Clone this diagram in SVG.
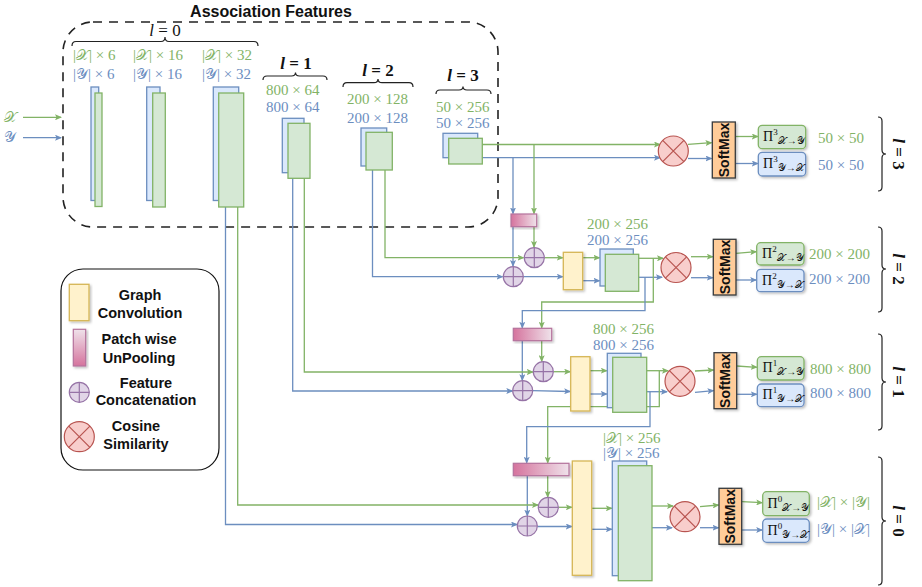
<svg xmlns="http://www.w3.org/2000/svg" width="922" height="587" viewBox="0 0 922 587">
<style>
.g{stroke:#82b366;fill:none;stroke-width:1.3}
.b{stroke:#6c8ebf;fill:none;stroke-width:1.3}
.gf{fill:#d5e8d4;stroke:#82b366;stroke-width:1.3}
.bf{fill:#dae8fc;stroke:#6c8ebf;stroke-width:1.3}
.yf{fill:#fff2cc;stroke:#d6b656;stroke-width:1.3}
.pc{fill:#e1d5e7;stroke:#9673a6;stroke-width:1.2}
.rc{fill:#f8cecc;stroke:#b85450;stroke-width:1.2}
.sm{fill:#ffcc99;stroke:#36393d;stroke-width:1.3}
.pk{stroke:#b5739d;stroke-width:1.2}
.m{font-family:"Liberation Serif","DejaVu Serif",serif;font-size:15px}
.tg{fill:#82b366}
.tb{fill:#6c8ebf}
.lab{font-family:"Liberation Sans",Arial,sans-serif;font-weight:bold;font-size:14.5px;fill:#111;text-anchor:middle}
.smt{font-family:"Liberation Sans",Arial,sans-serif;font-weight:bold;font-size:14px;fill:#111;text-anchor:middle}
.lv{font-family:"Liberation Serif","DejaVu Serif",serif;font-weight:bold;font-size:17px;fill:#111;text-anchor:middle}
.br{fill:none;stroke:#222;stroke-width:1.2}
.pi{font-family:"Liberation Serif","DejaVu Serif",serif;font-size:14px;fill:#111}
.ps{font-size:9px}
.pb{font-size:10px}
</style>
<defs>
<marker id="ag" markerWidth="7" markerHeight="6" refX="6" refY="3" orient="auto" markerUnits="userSpaceOnUse"><path d="M0,0 L7,3 L0,6 L1.5,3 z" fill="#82b366"/></marker>
<marker id="ab" markerWidth="7" markerHeight="6" refX="6" refY="3" orient="auto" markerUnits="userSpaceOnUse"><path d="M0,0 L7,3 L0,6 L1.5,3 z" fill="#6c8ebf"/></marker>
<linearGradient id="pkh" x1="0" y1="0" x2="1" y2="0"><stop offset="0" stop-color="#d5739d"/><stop offset="1" stop-color="#efe2ea"/></linearGradient>
<linearGradient id="pkv" x1="0" y1="0" x2="0" y2="1"><stop offset="0" stop-color="#efe2ea"/><stop offset="1" stop-color="#d5739d"/></linearGradient>
<filter id="sh" x="-20%" y="-20%" width="140%" height="140%"><feDropShadow dx="1.5" dy="1.5" stdDeviation="0.8" flood-color="#000" flood-opacity="0.25"/></filter>
<g id="cosSym"><circle r="15" class="rc"/><path d="M-10.6,-10.6 L10.6,10.6 M10.6,-10.6 L-10.6,10.6" stroke="#b85450" stroke-width="1.2"/></g>
<g id="catSym"><circle r="10" class="pc"/><path d="M-10,0 H10 M0,-10 V10" stroke="#9673a6" stroke-width="1.2"/></g>
</defs>

<rect width="922" height="587" fill="#fff"/>

<!-- Association features frame -->
<g id="assoc-frame">
<rect x="63" y="22" width="435" height="205" rx="30" fill="none" stroke="#222" stroke-width="1.6" stroke-dasharray="9,7"/>
<text x="271" y="17" font-family="'Liberation Sans',Arial,sans-serif" font-weight="bold" font-size="16" text-anchor="middle" fill="#111">Association Features</text>
</g>

<!-- connectors -->
<g id="connectors">
<!-- inputs -->
<path class="g" d="M23,117.3 H61" marker-end="url(#ag)"/>
<path class="b" d="M23,137.7 H61" marker-end="url(#ab)"/>
<!-- level 3 -->
<path class="g" d="M482,144.5 H660" marker-end="url(#ag)"/>
<path class="b" d="M482,157.7 H660" marker-end="url(#ab)"/>
<path class="g" d="M534,144.5 V213.5" marker-end="url(#ag)"/>
<path class="b" d="M513,157.7 V213.5" marker-end="url(#ab)"/>
<path class="g" d="M688,144.3 L711.5,142.7" marker-end="url(#ag)"/>
<path class="b" d="M688,158.5 H711.5" marker-end="url(#ab)"/>
<path class="g" d="M735.3,136.5 H757.8" marker-end="url(#ag)"/>
<path class="b" d="M735.3,163.5 H757.8" marker-end="url(#ab)"/>
<!-- level 2 -->
<path class="g" d="M534,226.7 V247" marker-end="url(#ag)"/>
<path class="b" d="M513,226.7 V266" marker-end="url(#ab)"/>
<path class="g" d="M385,170 V257.7 H523.5" marker-end="url(#ag)"/>
<path class="b" d="M372.5,166 V276.7 H502.5" marker-end="url(#ab)"/>
<path class="g" d="M544.3,257.7 H562.8" marker-end="url(#ag)"/>
<path class="b" d="M523.3,276.7 H562.8" marker-end="url(#ab)"/>
<path class="g" d="M582.7,257.7 H599.5" marker-end="url(#ag)"/>
<path class="b" d="M582.7,280.7 H599.5" marker-end="url(#ab)"/>
<path class="g" d="M638.7,258.3 H663" marker-end="url(#ag)"/>
<path class="b" d="M638.7,277.3 H662" marker-end="url(#ab)"/>
<path class="g" d="M653.3,258.3 V302 H541.7 V327.8" marker-end="url(#ag)"/>
<path class="b" d="M645,277.3 V310.7 H522.3 V327.8" marker-end="url(#ab)"/>
<path class="g" d="M691,256.7 H712.8" marker-end="url(#ag)"/>
<path class="b" d="M691,277.7 H712.8" marker-end="url(#ab)"/>
<path class="g" d="M736,253.3 L756.2,251.7" marker-end="url(#ag)"/>
<path class="b" d="M736,280 H756.2" marker-end="url(#ab)"/>
<!-- level 1 -->
<path class="g" d="M541.7,340.7 V361.2" marker-end="url(#ag)"/>
<path class="b" d="M522.3,340.7 V380.2" marker-end="url(#ab)"/>
<path class="g" d="M304.3,178.3 V372 H532.8" marker-end="url(#ag)"/>
<path class="b" d="M292.7,172.7 V391 H512.3" marker-end="url(#ab)"/>
<path class="g" d="M553.3,371.7 H570.2" marker-end="url(#ag)"/>
<path class="b" d="M532.7,390.7 L570.2,391.5" marker-end="url(#ab)"/>
<path class="g" d="M590,370.7 H606.8" marker-end="url(#ag)"/>
<path class="b" d="M590,394 H606.8" marker-end="url(#ab)"/>
<path class="g" d="M646.7,370.7 H668" marker-end="url(#ag)"/>
<path class="b" d="M646.7,391.7 H667" marker-end="url(#ab)"/>
<path class="g" d="M659.3,370.7 V406.7 H547.7 V462.8" marker-end="url(#ag)"/>
<path class="b" d="M650,391.7 V426.7 H526.7 V462.8" marker-end="url(#ab)"/>
<path class="g" d="M695,371 L713.5,370" marker-end="url(#ag)"/>
<path class="b" d="M695,392.3 L713.5,390.7" marker-end="url(#ab)"/>
<path class="g" d="M736.7,366 L756.8,367.3" marker-end="url(#ag)"/>
<path class="b" d="M736.7,394.3 H756.8" marker-end="url(#ab)"/>
<!-- level 0 -->
<path class="g" d="M547.7,475.7 V497" marker-end="url(#ag)"/>
<path class="b" d="M527.3,475.7 V515.7" marker-end="url(#ab)"/>
<path class="g" d="M237.7,206.7 V505 H538" marker-end="url(#ag)"/>
<path class="b" d="M225.5,200.7 V524.5 H517" marker-end="url(#ab)"/>
<path class="g" d="M558.3,507.3 H571.8" marker-end="url(#ag)"/>
<path class="b" d="M537.3,526.5 H571.8" marker-end="url(#ab)"/>
<path class="g" d="M591.7,508.3 H611.8" marker-end="url(#ag)"/>
<path class="b" d="M591.7,529.3 H611.8" marker-end="url(#ab)"/>
<path class="g" d="M652,506 H673" marker-end="url(#ag)"/>
<path class="b" d="M652,527.7 H672" marker-end="url(#ab)"/>
<path class="g" d="M700,506.7 L718.5,505" marker-end="url(#ag)"/>
<path class="b" d="M700,527.7 H718.5" marker-end="url(#ab)"/>
<path class="g" d="M741.7,501.7 L762.2,502.7" marker-end="url(#ag)"/>
<path class="b" d="M741.7,530 H762.2" marker-end="url(#ab)"/>
</g>

<!-- inputs labels -->
<g id="inputs">
<text class="m tg" x="4" y="122">𝒳</text>
<text class="m tb" x="4" y="142">𝒴</text>
</g>

<!-- level 0 encoder -->
<g id="enc-l0">
<text x="165" y="36" class="lv" style="font-weight:normal"><tspan font-style="italic">l</tspan> = 0</text>
<path class="br" d="M72,46 Q72,41.5 76,41.5 H161 Q165,41.5 165,37 Q165,41.5 169,41.5 H254 Q258,41.5 258,46"/>
<text class="m tg" x="73" y="60">|𝒳| × 6</text>
<text class="m tb" x="73" y="79">|𝒴| × 6</text>
<text class="m tg" x="133" y="60">|𝒳| × 16</text>
<text class="m tb" x="133" y="79">|𝒴| × 16</text>
<text class="m tg" x="202" y="60">|𝒳| × 32</text>
<text class="m tb" x="202" y="79">|𝒴| × 32</text>
<rect class="bf" x="91" y="87" width="7.7" height="113.5"/>
<rect class="gf" x="95" y="93" width="7" height="113.5"/>
<rect class="bf" x="146.7" y="87" width="13.3" height="113.5"/>
<rect class="gf" x="152.7" y="93" width="12.6" height="114"/>
<rect class="bf" x="213.3" y="87" width="25.4" height="113.5"/>
<rect class="gf" x="218.7" y="93" width="25" height="114"/>
</g>

<g id="enc-l1">
<text x="296" y="69" class="lv"><tspan font-style="italic">l</tspan> = 1</text>
<path class="br" d="M263,80 Q263,76 267,76 H291.5 Q295.5,76 295.5,72.5 Q295.5,76 299.5,76 H323 Q327,76 327,80"/>
<text class="m tg" x="266" y="95">800 × 64</text>
<text class="m tb" x="266" y="112">800 × 64</text>
<rect class="bf" x="282.3" y="118.3" width="21.7" height="54.4"/>
<rect class="gf" x="288" y="123.3" width="22" height="55"/>
</g>

<g id="enc-l2">
<text x="378" y="76" class="lv"><tspan font-style="italic">l</tspan> = 2</text>
<path class="br" d="M343,87 Q343,82.7 347,82.7 H374 Q378,82.7 378,79 Q378,82.7 382,82.7 H409 Q413,82.7 413,87"/>
<text class="m tg" x="347" y="104">200 × 128</text>
<text class="m tb" x="347" y="123">200 × 128</text>
<rect class="bf" x="361" y="128" width="25.7" height="38"/>
<rect class="gf" x="366" y="132.3" width="26.3" height="37.7"/>
</g>

<g id="enc-l3">
<text x="463" y="81" class="lv"><tspan font-style="italic">l</tspan> = 3</text>
<path class="br" d="M436,94 Q436,90 440,90 H459 Q463,90 463,86.5 Q463,90 467,90 H487 Q491,90 491,94"/>
<text class="m tg" x="436" y="112">50 × 256</text>
<text class="m tb" x="436" y="128">50 × 256</text>
<rect class="bf" x="443" y="133.3" width="34.7" height="24.4"/>
<rect class="gf" x="448.7" y="138.3" width="33.6" height="25.7"/>
</g>

<!-- level 3 decoder -->
<g id="cos3"><use href="#cosSym" x="673.3" y="151"/></g>
<g id="softmax3"><rect class="sm" x="712.3" y="122" width="23" height="56" filter="url(#sh)"/><text class="smt" transform="translate(728.8,150) rotate(-90)">SoftMax</text></g>
<g id="pi3x"><rect class="gf" x="758.3" y="125.3" width="47.4" height="23.4" rx="4" filter="url(#sh)"/><text class="pi" x="763" y="141">Π<tspan class="ps" dy="-6">3</tspan><tspan class="pb" dy="9">𝒳→𝒴</tspan></text></g>
<g id="pi3y"><rect class="bf" x="758.3" y="152.3" width="47.4" height="23.7" rx="4" filter="url(#sh)"/><text class="pi" x="763" y="168">Π<tspan class="ps" dy="-6">3</tspan><tspan class="pb" dy="9">𝒴→𝒳</tspan></text></g>
<g id="dim3"><text class="m tg" x="818" y="143">50 × 50</text><text class="m tb" x="818" y="170">50 × 50</text></g>
<g id="brace3"><path class="br" d="M878,117 Q882,117 882,121 V150 Q882,154 886,154 Q882,154 882,158 V187 Q882,191 878,191"/><text class="lv" transform="translate(893,154) rotate(90)"><tspan font-style="italic">l</tspan> = 3</text></g>

<!-- level 2 decoder -->
<g id="pool2"><rect class="pk" x="511" y="214" width="25.7" height="12.7" fill="url(#pkh)" filter="url(#sh)"/></g>
<g id="cat2g"><use href="#catSym" x="534.3" y="257.7"/></g>
<g id="cat2b"><use href="#catSym" x="513.3" y="276.7"/></g>
<g id="gc2"><rect class="yf" x="563.3" y="252.3" width="19.4" height="37.4" filter="url(#sh)"/></g>
<g id="feat2"><text class="m tg" x="587" y="229">200 × 256</text><text class="m tb" x="587" y="244.5">200 × 256</text>
<rect class="bf" x="600" y="249" width="33.3" height="37"/><rect class="gf" x="605.3" y="254.3" width="33.4" height="37"/></g>
<g id="cos2"><use href="#cosSym" x="676" y="267.5"/></g>
<g id="softmax2"><rect class="sm" x="713.3" y="239.3" width="22.7" height="55.7" filter="url(#sh)"/><text class="smt" transform="translate(729.6,267) rotate(-90)">SoftMax</text></g>
<g id="pi2x"><rect class="gf" x="756.7" y="242.7" width="47.3" height="22.3" rx="4" filter="url(#sh)"/><text class="pi" x="762" y="258">Π<tspan class="ps" dy="-6">2</tspan><tspan class="pb" dy="9">𝒳→𝒴</tspan></text></g>
<g id="pi2y"><rect class="bf" x="756.7" y="269.3" width="47.3" height="22.4" rx="4" filter="url(#sh)"/><text class="pi" x="762" y="284.5">Π<tspan class="ps" dy="-6">2</tspan><tspan class="pb" dy="9">𝒴→𝒳</tspan></text></g>
<g id="dim2"><text class="m tg" x="809" y="258.5">200 × 200</text><text class="m tb" x="809" y="284">200 × 200</text></g>
<g id="brace2"><path class="br" d="M878,227 Q882,227 882,231 V265 Q882,269 886,269 Q882,269 882,273 V308 Q882,312 878,312"/><text class="lv" transform="translate(893,269) rotate(90)"><tspan font-style="italic">l</tspan> = 2</text></g>

<!-- level 1 decoder -->
<g id="pool1"><rect class="pk" x="513.3" y="328.3" width="38.4" height="12.4" fill="url(#pkh)" filter="url(#sh)"/></g>
<g id="cat1g"><use href="#catSym" x="543.3" y="371.7"/></g>
<g id="cat1b"><use href="#catSym" x="522.7" y="390.7"/></g>
<g id="gc1"><rect class="yf" x="570.7" y="356.7" width="19.3" height="54.3" filter="url(#sh)"/></g>
<g id="feat1"><text class="m tg" x="593" y="334">800 × 256</text><text class="m tb" x="593" y="349.5">800 × 256</text>
<rect class="bf" x="607.3" y="353.3" width="33.7" height="54.4"/><rect class="gf" x="612.7" y="357.3" width="34" height="55"/></g>
<g id="cos1"><use href="#cosSym" x="680" y="381.3"/></g>
<g id="softmax1"><rect class="sm" x="714" y="352.7" width="22.7" height="56" filter="url(#sh)"/><text class="smt" transform="translate(730.3,380.7) rotate(-90)">SoftMax</text></g>
<g id="pi1x"><rect class="gf" x="757.3" y="356.7" width="46.7" height="23.3" rx="4" filter="url(#sh)"/><text class="pi" x="762.5" y="372">Π<tspan class="ps" dy="-6">1</tspan><tspan class="pb" dy="9">𝒳→𝒴</tspan></text></g>
<g id="pi1y"><rect class="bf" x="757.3" y="384" width="46.7" height="22.7" rx="4" filter="url(#sh)"/><text class="pi" x="762.5" y="399">Π<tspan class="ps" dy="-6">1</tspan><tspan class="pb" dy="9">𝒴→𝒳</tspan></text></g>
<g id="dim1"><text class="m tg" x="810" y="373.5">800 × 800</text><text class="m tb" x="810" y="398">800 × 800</text></g>
<g id="brace1"><path class="br" d="M878,334 Q882,334 882,338 V378 Q882,382 886,382 Q882,382 882,386 V426 Q882,430 878,430"/><text class="lv" transform="translate(893,382) rotate(90)"><tspan font-style="italic">l</tspan> = 1</text></g>

<!-- level 0 decoder -->
<g id="pool0"><rect class="pk" x="513.3" y="463.3" width="55.7" height="12.4" fill="url(#pkh)" filter="url(#sh)"/></g>
<g id="cat0g"><use href="#catSym" x="548.3" y="507.3"/></g>
<g id="cat0b"><use href="#catSym" x="527.3" y="526"/></g>
<g id="gc0"><rect class="yf" x="572.3" y="461" width="19.4" height="114.3" filter="url(#sh)"/></g>
<g id="feat0"><text class="m tg" x="603" y="442.5">|𝒳| × 256</text><text class="m tb" x="603" y="458">|𝒴| × 256</text>
<rect class="bf" x="612.3" y="461" width="34.4" height="114.7"/><rect class="gf" x="618.3" y="465.7" width="33.7" height="115"/></g>
<g id="cos0"><use href="#cosSym" x="685" y="516.7"/></g>
<g id="softmax0"><rect class="sm" x="719" y="488.3" width="22.7" height="56" filter="url(#sh)"/><text class="smt" transform="translate(735.3,516.3) rotate(-90)">SoftMax</text></g>
<g id="pi0x"><rect class="gf" x="762.7" y="491.7" width="46.6" height="24" rx="4" filter="url(#sh)"/><text class="pi" x="767.5" y="507.5">Π<tspan class="ps" dy="-6">0</tspan><tspan class="pb" dy="9">𝒳→𝒴</tspan></text></g>
<g id="pi0y"><rect class="bf" x="762.7" y="519" width="46.6" height="23.3" rx="4" filter="url(#sh)"/><text class="pi" x="767.5" y="534.5">Π<tspan class="ps" dy="-6">0</tspan><tspan class="pb" dy="9">𝒴→𝒳</tspan></text></g>
<g id="dim0"><text class="m tg" x="817" y="507">|𝒳| × |𝒴|</text><text class="m tb" x="817" y="534">|𝒴| × |𝒳|</text></g>
<g id="brace0"><path class="br" d="M878,457 Q882,457 882,461 V517 Q882,521 886,521 Q882,521 882,525 V581 Q882,585 878,585"/><text class="lv" transform="translate(893,521) rotate(90)"><tspan font-style="italic">l</tspan> = 0</text></g>

<!-- legend -->
<g id="legend">
<rect x="61" y="269" width="158" height="201" rx="22" fill="none" stroke="#111" stroke-width="1.2"/>
<rect class="yf" x="69.3" y="284.3" width="19.7" height="36.4" filter="url(#sh)"/>
<text class="lab" x="140" y="300">Graph</text><text class="lab" x="140" y="318">Convolution</text>
<rect class="pk" x="73.3" y="329.3" width="12.4" height="36.7" fill="url(#pkv)" filter="url(#sh)"/>
<text class="lab" x="139" y="344">Patch wise</text><text class="lab" x="139" y="362.5">UnPooling</text>
<use href="#catSym" x="79.3" y="392.3"/>
<text class="lab" x="146" y="387.5">Feature</text><text class="lab" x="146" y="405">Concatenation</text>
<use href="#cosSym" x="79.3" y="436.7"/>
<text class="lab" x="136" y="431">Cosine</text><text class="lab" x="136" y="448.5">Similarity</text>
</g>
</svg>
